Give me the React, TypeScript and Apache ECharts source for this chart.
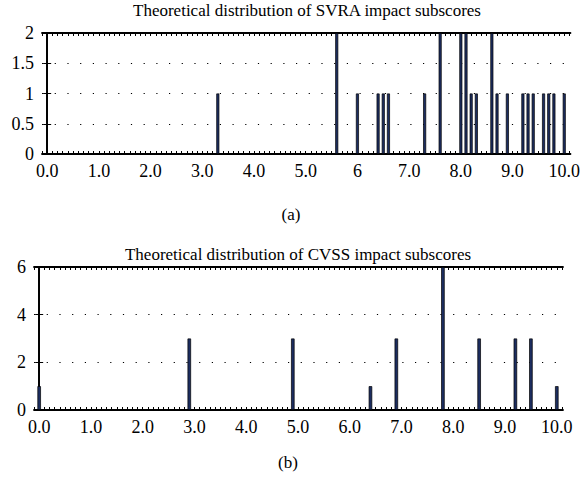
import React, { useEffect, useRef } from "react";
import * as echarts from "echarts";

// Chart (a): SVRA impact subscores
const svraScores = [3.3, 5.6, 6.0, 6.4, 6.5, 6.6, 7.3, 7.6, 8.0, 8.1, 8.2, 8.3, 8.6, 8.7, 8.9, 9.2, 9.3, 9.4, 9.6, 9.7, 9.8, 10.0];
const svraCounts = [1, 2, 1, 1, 1, 1, 1, 2, 2, 2, 1, 1, 2, 1, 1, 1, 1, 1, 1, 1, 1, 1];

// Chart (b): CVSS impact subscores
const cvssScores = [0.0, 2.9, 4.9, 6.4, 6.9, 7.8, 8.5, 9.2, 9.5, 10.0];
const cvssCounts = [1, 3, 3, 1, 3, 6, 3, 3, 3, 1];

const xTickValues = [0, 1, 2, 3, 4, 5, 6, 7, 8, 9, 10];
const xTickLabelsA = ["0.0", "1.0", "2.0", "3.0", "4.0", "5.0", "6", "7.0", "8.0", "9.0", "10.0"];
const xTickLabelsB = ["0.0", "1.0", "2.0", "3.0", "4.0", "5.0", "6.0", "7.0", "8.0", "9.0", "10.0"];

const titleA = "Theoretical distribution of SVRA impact subscores";
const titleB = "Theoretical distribution of CVSS impact subscores";

const FONT = "Liberation Serif";

const minorTicks: number[] = [];
for (let i = -1; i <= 101; i++) minorTicks.push(i / 10);

function xAxes(grid: number, labels: string[]) {
  const base = {
    type: "value" as const,
    gridIndex: grid,
    min: -0.1,
    max: 10.12,
    axisLine: { show: true, onZero: false, lineStyle: { color: "#000", width: 1.8 } },
    splitLine: { show: false },
  };
  return [
    {
      ...base,
      position: "bottom",
      axisTick: { show: true, inside: true, length: 3, customValues: minorTicks, lineStyle: { color: "#000", width: 1 } },
      axisLabel: {
        show: true,
        customValues: xTickValues,
        formatter: (v: number) => labels[Math.round(v)] ?? "",
        fontFamily: FONT,
        fontSize: 18,
        color: "#000",
        margin: 8,
      },
    },
    {
      ...base,
      position: "top",
      axisTick: { show: true, inside: true, length: 3, customValues: minorTicks, lineStyle: { color: "#000", width: 1 } },
      axisLabel: { show: false },
    },
  ];
}

function yAxes(grid: number, max: number, interval: number) {
  return [
    {
      type: "value" as const,
      gridIndex: grid,
      min: 0,
      max,
      interval,
      position: "left",
      axisLine: { show: true, lineStyle: { color: "#000", width: 1.8 } },
      axisTick: { show: true, inside: true, length: 4, lineStyle: { color: "#000" } },
      axisLabel: { fontFamily: FONT, fontSize: 18, color: "#000", margin: 8 },
      splitLine: { show: true, lineStyle: { color: "#000", width: 1, type: [1.2, 11.5] } },
    },
    {
      type: "value" as const,
      gridIndex: grid,
      min: 0,
      max,
      interval,
      position: "right",
      axisLine: { show: true, lineStyle: { color: "#000", width: 1.8 } },
      axisTick: { show: true, inside: true, length: 4, lineStyle: { color: "#000" } },
      axisLabel: { show: false },
      splitLine: { show: false },
    },
  ];
}

const titleStyle = { fontFamily: FONT, fontSize: 17, fontWeight: "normal", color: "#000" };

export default function App() {
  const ref = useRef<HTMLDivElement>(null);
  useEffect(() => {
    if (!ref.current) return;
    const chart = echarts.init(ref.current, undefined, { renderer: "svg" });
    const barStyle = { color: "#1c2d60", borderColor: "#000", borderWidth: 0.7 };
    chart.setOption({
      animation: false,
      backgroundColor: "#fff",
      grid: [
        { left: 42, top: 33, width: 530, height: 121 },
        { left: 34, top: 267, width: 529, height: 143 },
      ],
      title: [
        { text: titleA, left: 307, top: 2, padding: 0, textAlign: "center", textStyle: titleStyle },
        { text: titleB, left: 298, top: 246, padding: 0, textAlign: "center", textStyle: titleStyle },
        { text: "(a)", left: 291, top: 206, padding: 0, textAlign: "center", textStyle: titleStyle },
        { text: "(b)", left: 288, top: 454, padding: 0, textAlign: "center", textStyle: titleStyle },
      ],
      xAxis: [...xAxes(0, xTickLabelsA), ...xAxes(1, xTickLabelsB)],
      yAxis: [...yAxes(0, 2, 0.5), ...yAxes(1, 6, 2)],
      series: [
        {
          type: "bar",
          xAxisIndex: 0,
          yAxisIndex: 0,
          barWidth: 3,
          itemStyle: barStyle,
          data: svraScores.map((s, i) => [s, svraCounts[i]]),
        },
        {
          type: "bar",
          xAxisIndex: 2,
          yAxisIndex: 2,
          barWidth: 3.5,
          itemStyle: barStyle,
          data: cvssScores.map((s, i) => [s, cvssCounts[i]]),
        },
      ],
    });
    return () => chart.dispose();
  }, []);
  return (
    <div
      ref={ref}
      style={{ position: "fixed", left: 0, top: 0, width: 583, height: 481, background: "#fff" }}
    />
  );
}
